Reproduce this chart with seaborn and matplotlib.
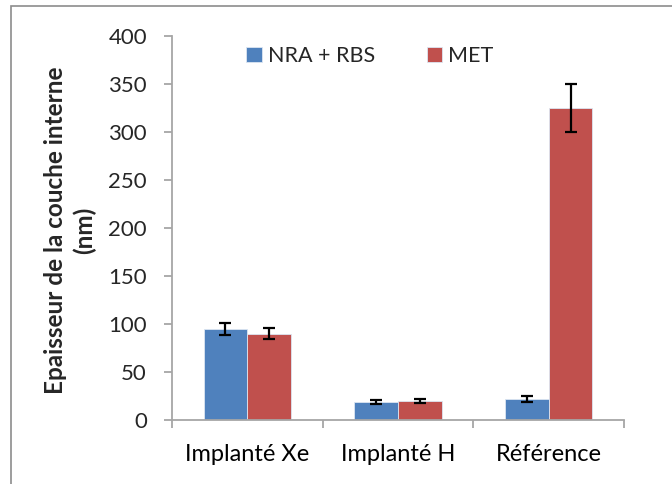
import matplotlib
matplotlib.use("Agg")
import matplotlib.pyplot as plt
import seaborn as sns
import pandas as pd
import numpy as np
from matplotlib.patches import Rectangle

categories = ["Implanté Xe", "Implanté H", "Référence"]
series = ["NRA + RBS", "MET"]
nra_values = [95, 19, 22]
nra_errors = [6, 2, 3]
met_values = [90, 20, 325]
met_errors = [6, 2, 25]
yticks = [0, 50, 100, 150, 200, 250, 300, 350, 400]

colors = ["#4F81BD", "#C0504D"]

sns.set_theme(style="white")
plt.rcParams['font.family'] = ['Lato', 'DejaVu Sans']

df = pd.DataFrame({
    "cat": categories * 2,
    "series": [series[0]] * 3 + [series[1]] * 3,
    "val": nra_values + met_values,
})

fig = plt.figure(figsize=(6.72, 4.84), dpi=100)
ax = fig.add_axes([172/672, 1 - 420/484, (624 - 172)/672, (420 - 36)/484])

sns.barplot(data=df, x="cat", y="val", hue="series", order=categories,
            hue_order=series, palette=colors, width=0.58, gap=0,
            saturation=1, edgecolor="#dce6f2", linewidth=0.6, ax=ax, errorbar=None)

errs = [nra_errors, met_errors]
vals = [nra_values, met_values]
bar_conts = list(ax.containers)
for i, cont in enumerate(bar_conts):
    xs = [p.get_x() + p.get_width() / 2 for p in cont.patches]
    ax.errorbar(xs, vals[i], yerr=errs[i], fmt="none", ecolor="black",
                elinewidth=1.6, capsize=4.3, capthick=1.6, zorder=5)

ax.set_xlim(-0.5, 2.5)
ax.set_ylim(0, 400)
ax.set_yticks(yticks)
ax.set_yticklabels([str(t) for t in yticks], fontsize=16)
ax.set_xticks(range(3))
ax.set_xticklabels(categories, fontsize=17)
ax.set_xticks([-0.5, 0.5, 1.5, 2.5], minor=True)
ax.tick_params(axis="x", which="major", length=0, pad=17, colors="black")
ax.tick_params(axis="x", which="minor", length=6, width=1.3, color="#A6A6A6", direction="out", bottom=True)
ax.tick_params(axis="y", which="major", length=6, width=1.3, color="#A6A6A6", direction="out", left=True, pad=12)
ax.set_xlabel("")
ax.set_ylabel("")
for s in ["top", "right"]:
    ax.spines[s].set_visible(False)
for s in ["left", "bottom"]:
    ax.spines[s].set_color("#A6A6A6")
    ax.spines[s].set_linewidth(1.3)

leg = ax.legend(loc="center left", bbox_to_anchor=(246/672, 1 - 56/484),
                bbox_transform=fig.transFigure, ncol=2, frameon=False,
                fontsize=15.5, handlelength=0.73, handleheight=0.73, handletextpad=0.28,
                columnspacing=2.4, borderpad=0, borderaxespad=0)

fig.text(70/672, 1 - 230/484, "Epaisseur de la couche interne\n(nm)", rotation=90,
         ha="center", va="center", fontsize=17.5, fontweight="bold", multialignment="center",
         linespacing=1.3)

fig.patches.append(Rectangle((11/672, -0.1), 1.2, 1 - 6/484 + 0.1, transform=fig.transFigure,
                             fill=False, edgecolor="#8c8c8c", linewidth=1.2, zorder=0))

fig.savefig("out.png", dpi=100)
